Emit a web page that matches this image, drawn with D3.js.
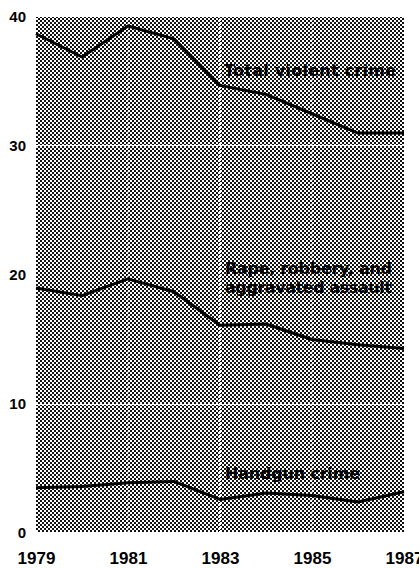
<!DOCTYPE html>
<html><head><meta charset="utf-8">
<script src="https://cdn.jsdelivr.net/npm/d3@7"></script>
<style>body{margin:0;background:#fff;overflow:hidden}</style>
</head><body>
<script>
const years = [1979,1980,1981,1982,1983,1984,1985,1986,1987];
const totalViolent = [38.7,36.9,39.3,38.3,34.7,34.0,32.5,31.0,31.0];
const rapeRobberyAssault = [19.0,18.4,19.7,18.7,16.1,16.2,15.0,14.6,14.3];
const handgunCrime = [3.5,3.6,3.9,4.0,2.6,3.1,2.9,2.4,3.2];
const yTicks = [0,10,20,30,40];
const xTicks = [1979,1981,1983,1985,1987];
const seriesLabels = [["Total violent crime"],["Rape, robbery, and","aggravated assault"],["Handgun crime"]];

const W=419,H=568;
const m={l:36,r:15,t:17,b:35};
const svg=d3.select("body").append("svg").attr("width",W).attr("height",H);
const defs=svg.append("defs");
const pat=defs.append("pattern").attr("id","ht").attr("width",4).attr("height",4).attr("patternUnits","userSpaceOnUse");
pat.append("rect").attr("width",4).attr("height",4).attr("fill","#fff");
pat.append("rect").attr("x",0).attr("y",0).attr("width",2).attr("height",2).attr("fill","#111");
pat.append("rect").attr("x",2).attr("y",2).attr("width",2).attr("height",2).attr("fill","#111");

const x=d3.scaleLinear().domain([1979,1987]).range([m.l,W-m.r]);
const y=d3.scaleLinear().domain([0,40]).range([H-m.b,m.t]);

svg.append("rect").attr("x",x(1979)).attr("y",y(40)).attr("width",x(1987)-x(1979)).attr("height",y(0)-y(40)).attr("fill","url(#ht)");

// grid
const g=svg.append("g");
g.selectAll("line.h").data([0,10,20,30]).join("line")
 .attr("x1",x(1979)).attr("x2",x(1987)).attr("y1",d=>y(d)).attr("y2",d=>y(d))
 .attr("stroke","#fff").attr("stroke-width",2).attr("stroke-dasharray","2,2");
g.selectAll("line.v").data([1981,1983,1985]).join("line")
 .attr("y1",y(0)).attr("y2",y(40)).attr("x1",d=>x(d)).attr("x2",d=>x(d))
 .attr("stroke","#fff").attr("stroke-width",d=>d===1983?2:1.2).attr("stroke-dasharray","2,2")
 .attr("opacity",d=>d===1983?1:0.6);

// axes
const ya=svg.append("g").attr("transform",`translate(${m.l-10},0)`)
 .call(d3.axisLeft(y).tickValues(yTicks).tickSize(0).tickPadding(0));
ya.select(".domain").remove();
ya.selectAll("text").attr("font-family","Liberation Sans, Arial, sans-serif").attr("font-weight","bold").attr("font-size",15).attr("fill","#000");
const xa=svg.append("g").attr("transform",`translate(0,${y(0)+13})`)
 .call(d3.axisBottom(x).tickValues(xTicks).tickFormat(d3.format("d")).tickSize(0).tickPadding(6));
xa.select(".domain").remove();
xa.selectAll("text").attr("font-family","Liberation Sans, Arial, sans-serif").attr("font-weight","bold").attr("font-size",17).attr("fill","#000");

// lines
const line=d3.line().x((d,i)=>x(years[i])).y(d=>y(d));
[totalViolent,rapeRobberyAssault,handgunCrime].forEach(s=>{
  svg.append("path").datum(s).attr("d",line).attr("fill","none").attr("stroke","#000").attr("stroke-width",3).attr("stroke-linejoin","round");
});

// labels
const lblPos=[[224,[76],172],[225,[274,293],167],[225,[479],135]];
seriesLabels.forEach((lines,i)=>{
  lines.forEach((t,j)=>{
    svg.append("text").attr("x",lblPos[i][0]).attr("y",lblPos[i][1][j]).text(t)
     .attr("textLength",lblPos[i][2]).attr("lengthAdjust","spacing")
     .attr("font-family","DejaVu Sans, sans-serif").attr("font-weight","bold").attr("font-size",16).attr("fill","#000");
  });
});
</script>
</body></html>
